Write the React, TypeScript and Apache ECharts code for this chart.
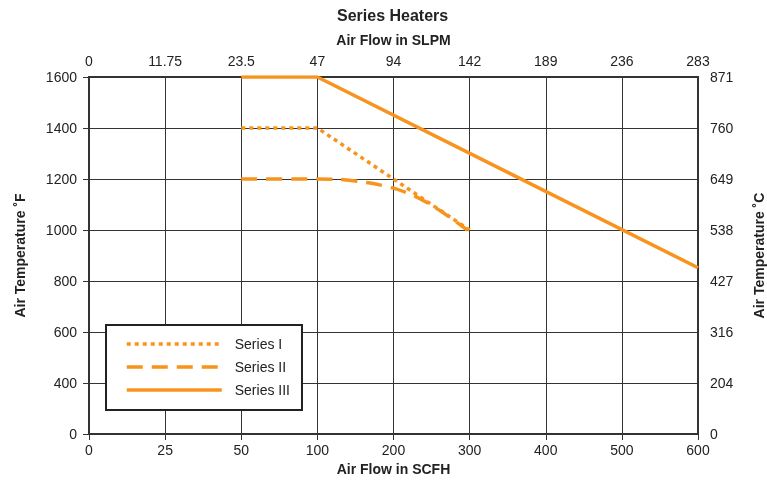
import React, { useEffect, useRef } from "react";
import * as echarts from "echarts";

const TITLE = "Series Heaters";
const SCFH_TICKS = [0, 25, 50, 100, 200, 300, 400, 500, 600];
const SLPM_LABELS = ["0", "11.75", "23.5", "47", "94", "142", "189", "236", "283"];
const F_TICKS = [200, 400, 600, 800, 1000, 1200, 1400, 1600];
const F_LABELS = ["0", "400", "600", "800", "1000", "1200", "1400", "1600"];
const C_LABELS = ["0", "204", "316", "427", "538", "649", "760", "871"];

const SERIES_NAMES = ["Series I", "Series II", "Series III"];
const SERIES_I: [number, number][] = [[50, 1400], [100, 1400], [300, 1000]];
const SERIES_II: [number, number][] = [
  [50, 1200], [100, 1200], [130, 1198], [165, 1186], [200, 1164], [230, 1130], [260, 1078], [297, 1000],
];
const SERIES_III: [number, number][] = [[50, 1600], [100, 1600], [600, 852]];

const ORANGE = "#F7941D";
const INK = "#222";
const FONT = "'Liberation Sans Narrow', 'Liberation Sans', Arial, sans-serif";
const BOLD_FONT = "'Liberation Sans', Arial, sans-serif";

// piecewise scale: evenly spaced gridlines labelled with SCFH_TICKS
function toPos(v: number): number {
  for (let i = 0; i < SCFH_TICKS.length - 1; i++) {
    const a = SCFH_TICKS[i], b = SCFH_TICKS[i + 1];
    if (v <= b) return i + (v - a) / (b - a);
  }
  return SCFH_TICKS.length - 1;
}
const conv = (d: [number, number][]) => d.map(([x, y]) => [toPos(x), y]);

export default function App() {
  const ref = useRef<HTMLDivElement>(null);
  useEffect(() => {
    document.body.style.margin = "0";
    const chart = echarts.init(ref.current!, undefined, { renderer: "svg" });
    const labelAt = (arr: string[]) => (v: number) => {
      const i = Math.round(v);
      return Math.abs(v - i) < 1e-6 && arr[i] !== undefined ? arr[i] : "";
    };
    const fLabel = (arr: string[]) => (v: number) => {
      const i = F_TICKS.indexOf(v);
      return i >= 0 ? arr[i] : "";
    };
    const lineBase = { color: ORANGE, width: 3.5, cap: "butt" as const };
    const axisName = { fontFamily: BOLD_FONT, fontSize: 14, fontWeight: "bold", color: INK };
    const tickLabel = { fontFamily: FONT, fontSize: 14, color: INK };
    chart.setOption({
      animation: false,
      title: {
        text: TITLE,
        left: 337,
        top: 7,
        padding: 0,
        textStyle: { fontFamily: BOLD_FONT, fontSize: 16, fontWeight: "bold", color: INK },
      },
      legend: {
        orient: "vertical",
        left: 106,
        top: 325,
        backgroundColor: "#fff",
        borderColor: INK,
        borderWidth: 2,
        borderRadius: 0,
        padding: [12, 12, 13, 19],
        itemWidth: 95,
        itemHeight: 12,
        itemGap: 9,
        data: SERIES_NAMES,
        itemStyle: { opacity: 0 },
        lineStyle: { width: 3.5 },
        textStyle: { fontFamily: BOLD_FONT, fontSize: 14, color: INK, padding: [0, 0, 0, 8] },
      },
      grid: {
        left: 89, right: 69, top: 77, bottom: 46,
        outerBoundsMode: "none",
        show: true, borderColor: "#333", borderWidth: 2,
      },
      xAxis: [
        {
          type: "value", position: "bottom", min: 0, max: 8, interval: 1,
          name: "Air Flow in SCFH", nameLocation: "middle", nameGap: 28, nameTextStyle: axisName,
          axisLine: { show: true, lineStyle: { color: "#333", width: 2 } },
          axisTick: { show: true, length: 6, lineStyle: { color: "#333" } },
          axisLabel: { formatter: labelAt(SCFH_TICKS.map(String)), margin: 9, ...tickLabel },
          splitLine: { show: true, lineStyle: { color: "#333", width: 1 } },
        },
        {
          type: "value", position: "top", min: 0, max: 8, interval: 1,
          name: "Air Flow in SLPM", nameLocation: "middle", nameGap: 30, nameTextStyle: axisName,
          axisLine: { show: true, lineStyle: { color: "#333", width: 2 } },
          axisTick: { show: false },
          axisLabel: { formatter: labelAt(SLPM_LABELS), margin: 9, ...tickLabel },
          splitLine: { show: false },
        },
      ],
      yAxis: [
        {
          type: "value", position: "left", min: 200, max: 1600, interval: 200,
          name: "Air Temperature ˚F", nameLocation: "middle", nameGap: 62, nameRotate: 90, nameTextStyle: axisName,
          axisLine: { show: true, lineStyle: { color: "#333", width: 2 } },
          axisTick: { show: true, length: 6, lineStyle: { color: "#333" } },
          axisLabel: { formatter: fLabel(F_LABELS), margin: 12, ...tickLabel },
          splitLine: { show: true, lineStyle: { color: "#333", width: 1 } },
        },
        {
          type: "value", position: "right", min: 200, max: 1600, interval: 200,
          name: "Air Temperature ˚C", nameLocation: "middle", nameGap: 54, nameRotate: 90, nameTextStyle: axisName,
          axisLine: { show: true, lineStyle: { color: "#333", width: 2 } },
          axisTick: { show: false },
          axisLabel: { formatter: fLabel(C_LABELS), margin: 12, ...tickLabel },
          splitLine: { show: false },
        },
      ],
      series: [
        {
          name: SERIES_NAMES[0], type: "line", symbol: "none", data: conv(SERIES_I),
          itemStyle: { color: ORANGE }, lineStyle: { ...lineBase, type: [4, 4] },
        },
        {
          name: SERIES_NAMES[1], type: "line", symbol: "none", smooth: 0.3, data: conv(SERIES_II),
          itemStyle: { color: ORANGE }, lineStyle: { ...lineBase, type: [16, 9] },
        },
        {
          name: SERIES_NAMES[2], type: "line", symbol: "none", data: conv(SERIES_III),
          itemStyle: { color: ORANGE }, lineStyle: { ...lineBase, type: "solid" },
        },
      ],
    });
    return () => chart.dispose();
  }, []);
  return <div ref={ref} style={{ position: "fixed", left: 0, top: 0, width: 767, height: 480 }} />;
}
